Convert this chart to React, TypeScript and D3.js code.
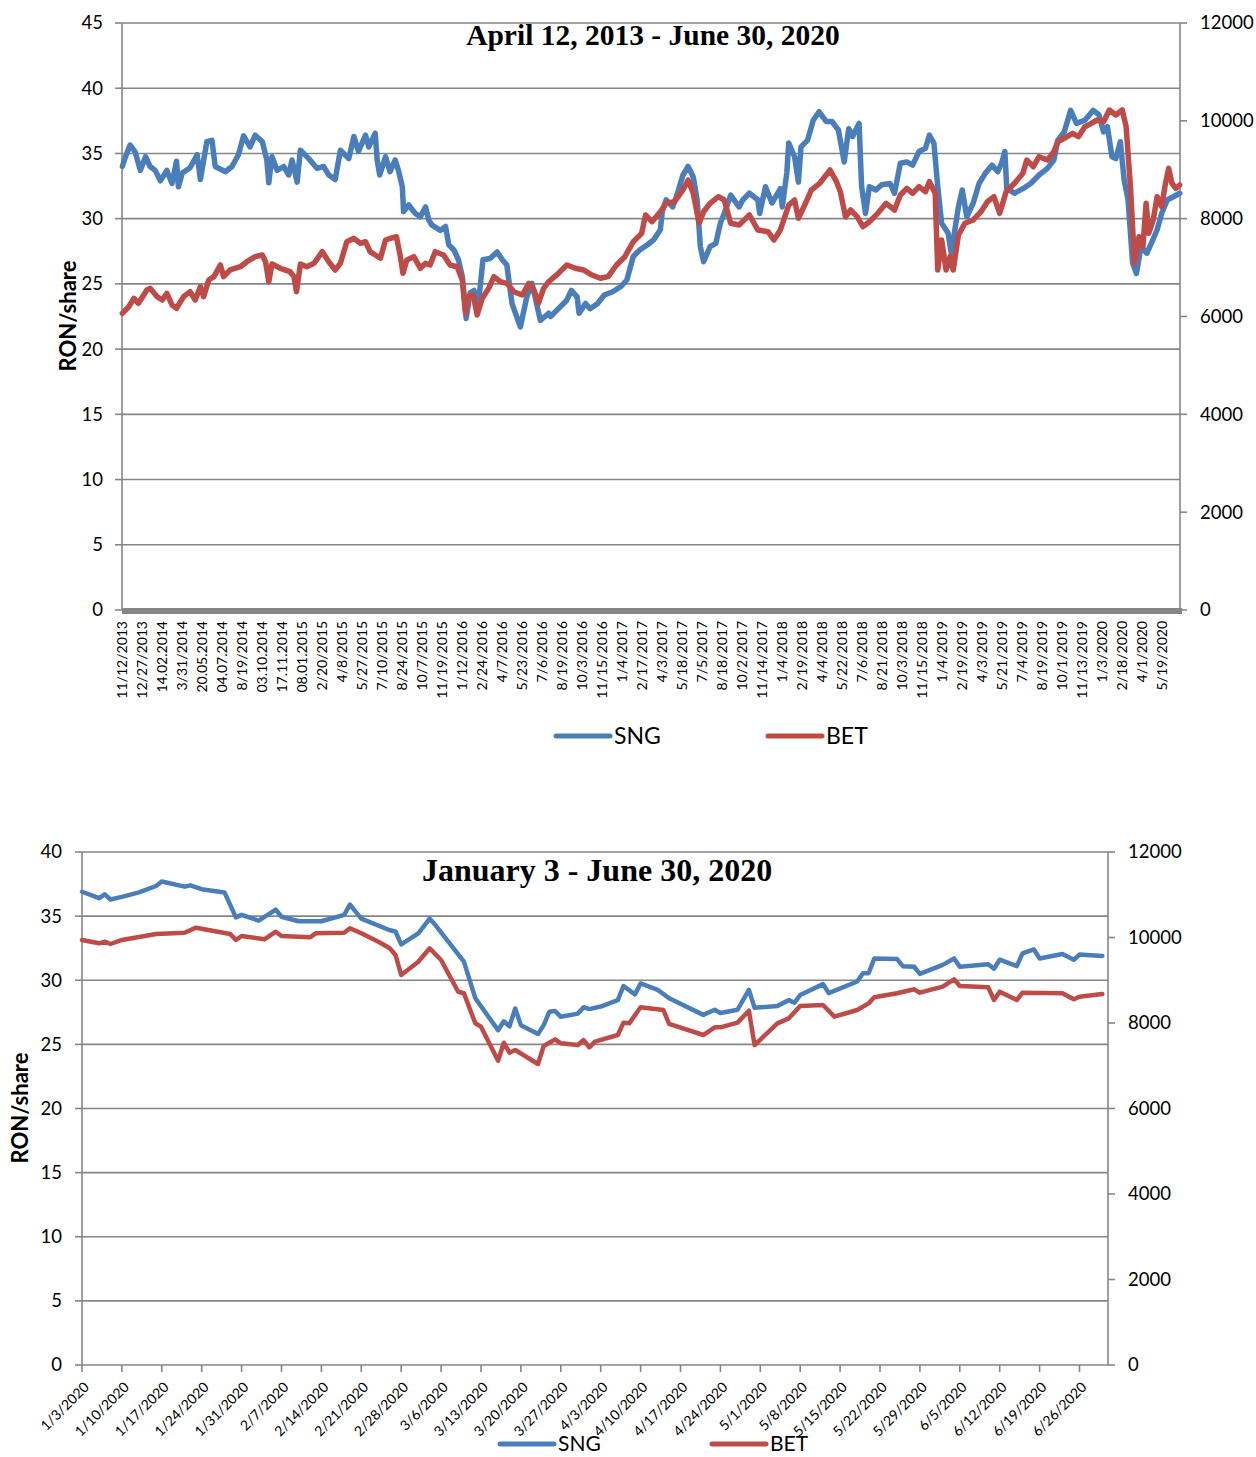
import React from 'react';
import * as d3 from 'd3';

// ---- long period chart (category axis, trading-day index) ----
const LONG_N = 1640;
const LONG_STEP = 31;
const longLabels = [
  '11/12/2013', '12/27/2013', '14.02.2014', '3/31/2014', '20.05.2014', '04.07.2014', '8/19/2014',
  '03.10.2014', '17.11.2014', '08.01.2015', '2/20/2015', '4/8/2015', '5/27/2015', '7/10/2015',
  '8/24/2015', '10/7/2015', '11/19/2015', '1/12/2016', '2/24/2016', '4/7/2016', '5/23/2016',
  '7/6/2016', '8/19/2016', '10/3/2016', '11/15/2016', '1/4/2017', '2/17/2017', '4/3/2017',
  '5/18/2017', '7/5/2017', '8/18/2017', '10/2/2017', '11/14/2017', '1/4/2018', '2/19/2018',
  '4/4/2018', '5/22/2018', '7/6/2018', '8/21/2018', '10/3/2018', '11/15/2018', '1/4/2019',
  '2/19/2019', '4/3/2019', '5/21/2019', '7/4/2019', '8/19/2019', '10/1/2019', '11/13/2019',
  '1/3/2020', '2/18/2020', '4/1/2020', '5/19/2020'
];

// [index, RON/share]
const longSNG: [number, number][] = [
  [0,34.0],[5,34.75],[12,35.65],[20,35.1],[28,33.7],[36,34.75],[43,34.0],[51,33.7],[59,32.9],[69,33.7],
  [77,32.7],[84,34.4],[87,32.45],[93,33.5],[105,33.9],[116,34.9],[121,33.0],[131,35.9],[139,36.0],[144,34.0],
  [160,33.6],[170,34.0],[180,34.9],[188,36.35],[198,35.5],[206,36.4],[217,35.9],[224,34.5],[227,32.75],[232,34.75],
  [240,33.7],[250,34.0],[258,33.35],[263,34.5],[271,32.8],[276,35.25],[289,34.6],[302,33.85],[312,34.0],[320,33.35],
  [330,33.0],[338,35.25],[351,34.6],[359,36.3],[366,35.15],[377,36.4],[382,35.5],[392,36.55],[395,34.5],[399,33.35],
  [408,34.75],[415,33.6],[423,34.5],[428,33.7],[434,32.45],[436,30.55],[444,31.05],[454,30.4],[462,30.15],[470,30.9],
  [475,29.9],[480,29.5],[493,29.1],[501,29.4],[506,28.0],[514,27.6],[521,26.85],[527,25.55],[533,22.35],[539,24.3],
  [545,24.5],[552,23.5],[559,26.85],[570,26.95],[581,27.45],[589,26.85],[596,26.45],[604,23.5],[617,21.7],[627,24.0],
  [635,25.05],[648,22.2],[661,22.75],[664,22.5],[676,23.1],[689,23.75],[696,24.5],[705,24.0],[708,22.75],[718,23.5],
  [725,23.1],[737,23.5],[747,24.15],[760,24.4],[773,24.8],[782,25.3],[792,27.1],[802,27.6],[814,28.0],[824,28.4],
  [834,29.15],[837,30.55],[843,31.45],[853,30.9],[859,31.7],[869,33.35],[877,34.0],[885,33.2],[891,31.45],[896,27.85],
  [901,26.7],[911,27.85],[920,28.1],[927,29.65],[933,30.4],[943,31.8],[956,30.9],[962,31.45],[972,31.95],[985,31.45],
  [988,30.4],[997,32.45],[1007,31.2],[1020,32.3],[1023,30.9],[1030,33.5],[1033,35.8],[1042,34.75],[1048,32.8],[1052,35.5],
  [1062,36.0],[1071,37.55],[1080,38.2],[1091,37.45],[1100,37.45],[1110,36.8],[1119,34.35],[1126,36.9],[1132,36.3],[1142,37.3],
  [1146,32.45],[1152,30.4],[1158,32.45],[1168,32.2],[1177,32.6],[1190,32.7],[1197,31.95],[1206,34.25],[1216,34.35],[1225,34.1],
  [1235,35.15],[1245,35.4],[1251,36.4],[1258,35.8],[1264,32.45],[1270,29.65],[1280,28.9],[1285,27.35],[1296,30.9],[1302,32.2],
  [1309,30.15],[1319,31.2],[1328,32.7],[1338,33.5],[1348,34.1],[1357,33.6],[1363,34.25],[1368,35.15],[1371,32.3],[1383,31.95],
  [1396,32.3],[1408,32.7],[1421,33.35],[1434,33.85],[1444,34.5],[1450,36.0],[1460,36.65],[1470,38.3],[1479,37.3],[1492,37.55],
  [1505,38.3],[1514,37.95],[1521,36.65],[1527,37.05],[1534,34.75],[1540,34.6],[1547,35.9],[1553,32.95],[1559,31.45],[1566,26.6],
  [1572,25.8],[1579,27.85],[1588,27.35],[1595,28.1],[1604,29.15],[1611,30.4],[1620,31.45],[1630,31.7],[1639,31.95]
];

// [index, BET points]
const longBET: [number, number][] = [
  [0,6065],[10,6200],[18,6372],[25,6270],[38,6542],[43,6576],[54,6405],[62,6337],[69,6474],[77,6235],
  [84,6168],[95,6405],[105,6507],[113,6337],[121,6610],[126,6405],[134,6746],[142,6814],[152,7053],[157,6814],
  [167,6951],[183,7018],[193,7120],[206,7223],[217,7257],[222,7120],[227,6712],[232,7073],[245,6985],[260,6916],
  [266,6814],[270,6507],[276,7073],[286,7018],[297,7087],[310,7325],[320,7120],[330,6951],[338,7087],[348,7529],
  [359,7598],[369,7496],[377,7529],[384,7325],[392,7257],[400,7190],[408,7564],[415,7598],[425,7631],[431,7223],
  [435,6883],[441,7155],[452,7223],[462,6985],[470,7087],[477,7053],[485,7325],[498,7257],[508,7053],[519,7018],
  [527,6746],[532,6065],[537,6405],[544,6439],[550,6031],[558,6372],[568,6576],[576,6814],[586,6712],[596,6678],
  [607,6507],[620,6439],[630,6678],[638,6542],[645,6270],[653,6576],[661,6712],[676,6883],[689,7053],[702,6985],
  [715,6951],[728,6848],[741,6781],[753,6814],[766,7053],[779,7223],[792,7529],[805,7700],[811,8075],[821,7938],
  [834,8142],[843,8314],[856,8347],[869,8586],[877,8790],[885,8518],[894,7905],[901,8142],[911,8314],[924,8449],
  [933,8382],[943,7905],[956,7871],[972,8075],[985,7769],[1001,7734],[1010,7564],[1020,7769],[1033,8279],[1042,8382],
  [1048,8008],[1059,8314],[1068,8586],[1081,8723],[1091,8893],[1097,8995],[1107,8756],[1113,8551],[1121,8040],[1129,8177],
  [1139,8040],[1148,7836],[1158,7938],[1171,8109],[1184,8314],[1197,8177],[1206,8484],[1216,8620],[1225,8518],[1235,8654],
  [1245,8551],[1251,8756],[1260,8518],[1264,6951],[1270,7564],[1277,6951],[1283,7223],[1288,6951],[1296,7666],[1306,7905],
  [1319,7973],[1331,8142],[1341,8347],[1351,8449],[1360,8109],[1370,8551],[1383,8723],[1396,8927],[1402,9199],[1412,9062],
  [1421,9267],[1434,9199],[1444,9369],[1450,9573],[1460,9643],[1473,9745],[1482,9676],[1492,9880],[1502,9949],[1511,10017],
  [1521,9983],[1530,10221],[1540,10119],[1550,10221],[1556,9880],[1563,8586],[1569,7087],[1576,7632],[1582,7427],[1587,8314],
  [1591,7700],[1598,7973],[1604,8449],[1611,8245],[1617,8723],[1622,9029],[1627,8723],[1633,8620],[1639,8688]
];

// ---- 2020 chart (date axis) ----
const shortTicks = [
  '1/3/2020', '1/10/2020', '1/17/2020', '1/24/2020', '1/31/2020', '2/7/2020', '2/14/2020', '2/21/2020',
  '2/28/2020', '3/6/2020', '3/13/2020', '3/20/2020', '3/27/2020', '4/3/2020', '4/10/2020', '4/17/2020',
  '4/24/2020', '5/1/2020', '5/8/2020', '5/15/2020', '5/22/2020', '5/29/2020', '6/5/2020', '6/12/2020',
  '6/19/2020', '6/26/2020'
];

const shortSNG: [string, number][] = [
  ['1/3',36.9],['1/6',36.4],['1/7',36.7],['1/8',36.3],['1/10',36.5],['1/13',36.85],['1/16',37.35],['1/17',37.7],
  ['1/21',37.3],['1/22',37.4],['1/24',37.1],['1/28',36.85],['1/30',34.9],['1/31',35.1],['2/3',34.65],['2/6',35.5],
  ['2/7',34.95],['2/10',34.6],['2/14',34.6],['2/18',35.1],['2/19',35.9],['2/21',34.8],['2/26',33.9],['2/27',33.8],
  ['2/28',32.8],['3/2',33.65],['3/4',34.8],['3/5',34.3],['3/10',31.45],['3/12',28.6],['3/16',26.1],['3/17',26.8],
  ['3/18',26.4],['3/19',27.8],['3/20',26.5],['3/23',25.8],['3/24',26.5],['3/25',27.55],['3/26',27.6],['3/27',27.15],
  ['3/30',27.4],['3/31',27.9],['4/1',27.75],['4/3',27.95],['4/6',28.45],['4/7',29.55],['4/9',28.9],['4/10',29.75],
  ['4/13',29.25],['4/15',28.6],['4/21',27.3],['4/23',27.7],['4/24',27.45],['4/27',27.7],['4/29',29.25],['4/30',27.85],
  ['5/4',28.0],['5/6',28.45],['5/7',28.25],['5/8',28.85],['5/12',29.7],['5/13',29.0],['5/18',29.9],['5/19',30.55],
  ['5/20',30.55],['5/21',31.7],['5/25',31.65],['5/26',31.1],['5/28',31.05],['5/29',30.5],['6/2',31.2],['6/4',31.7],
  ['6/5',31.05],['6/10',31.25],['6/11',30.9],['6/12',31.6],['6/15',31.1],['6/16',32.1],['6/18',32.4],['6/19',31.7],
  ['6/23',32.05],['6/25',31.6],['6/26',32.0],['6/30',31.9]
];

const shortBET: [string, number][] = [
  ['1/3',9942],['1/6',9864],['1/7',9902],['1/8',9848],['1/10',9942],['1/16',10082],['1/21',10112],['1/23',10230],
  ['1/29',10082],['1/30',9942],['1/31',10035],['2/4',9958],['2/6',10136],['2/7',10035],['2/12',10004],['2/13',10098],
  ['2/18',10113],['2/19',10215],['2/21',10098],['2/24',9902],['2/26',9747],['2/27',9591],['2/28',9123],['3/2',9434],
  ['3/4',9747],['3/6',9474],['3/9',8732],['3/10',8695],['3/12',7993],['3/13',7914],['3/16',7118],['3/17',7539],
  ['3/18',7305],['3/19',7368],['3/23',7041],['3/24',7462],['3/26',7618],['3/27',7525],['3/30',7485],['3/31',7602],
  ['4/1',7431],['4/2',7563],['4/6',7719],['4/7',8008],['4/8',7992],['4/10',8367],['4/14',8304],['4/15',7977],
  ['4/21',7719],['4/23',7899],['4/24',7899],['4/27',8008],['4/29',8288],['4/30',7485],['5/4',7992],['5/6',8109],
  ['5/8',8398],['5/12',8421],['5/14',8148],['5/18',8304],['5/20',8460],['5/21',8601],['5/25',8695],['5/28',8788],
  ['5/29',8709],['6/2',8850],['6/4',9022],['6/5',8866],['6/10',8835],['6/11',8538],['6/12',8733],['6/15',8538],
  ['6/16',8709],['6/23',8695],['6/25',8554],['6/26',8615],['6/30',8678]
];

const GRID = '#868686';
const BLUE = '#4A7EBB';
const RED = '#BE4B48';
const SANS = 'Lato, "Open Sans", sans-serif';
const SERIF = '"Liberation Serif", "Times New Roman", serif';

const parseMD = (s: string) => {
  const p = s.split('/').map(Number);
  return new Date(p[2] || 2020, p[0] - 1, p[1]);
};

const Legend = ({ y, x1, x2, size }: { y: number, x1: number, x2: number, size: number }) => (
  <g fontFamily={SANS} fontSize={size} fill="#000">
    <line x1={x1} x2={x1 + 54} y1={y} y2={y} stroke={BLUE} strokeWidth={5} strokeLinecap="round" />
    <text x={x1 + 58} y={y + size * 0.34}>SNG</text>
    <line x1={x2} x2={x2 + 54} y1={y} y2={y} stroke={RED} strokeWidth={5} strokeLinecap="round" />
    <text x={x2 + 58} y={y + size * 0.34}>BET</text>
  </g>
);

const LongChart = () => {
  const left = 122, right = 1180, top = 23, bottom = 610;
  const x = d3.scaleLinear().domain([-0.5, LONG_N - 0.5]).range([left, right]);
  const yL = d3.scaleLinear().domain([0, 45]).range([bottom, top]);
  const yR = d3.scaleLinear().domain([0, 12000]).range([bottom, top]);
  const sngLine = d3.line<[number, number]>().x(d => x(d[0])).y(d => yL(d[1]));
  const betLine = d3.line<[number, number]>().x(d => x(d[0])).y(d => yR(d[1]));
  const leftTicks = d3.range(0, 46, 5);
  const rightTicks = d3.range(0, 12001, 2000);

  return (
    <g>
      {leftTicks.map(t => (
        <g key={'l' + t}>
          {t > 0 && <line x1={left} x2={right} y1={yL(t)} y2={yL(t)} stroke={GRID} strokeWidth={1.6} />}
          <line x1={left - 7} x2={left} y1={yL(t)} y2={yL(t)} stroke={GRID} strokeWidth={1.6} />
          <text x={left - 19} y={yL(t)} dy="0.35em" textAnchor="end" fontFamily={SANS} fontSize={18.5}>{t}</text>
        </g>
      ))}
      {rightTicks.map(t => (
        <g key={'r' + t}>
          <line x1={right} x2={right + 7} y1={yR(t)} y2={yR(t)} stroke={GRID} strokeWidth={1.6} />
          <text x={right + 20} y={yR(t)} dy="0.35em" fontFamily={SANS} fontSize={18.5}>{t}</text>
        </g>
      ))}
      <line x1={left} x2={left} y1={top} y2={bottom} stroke={GRID} strokeWidth={1.6} />
      <line x1={right} x2={right} y1={top} y2={bottom} stroke={GRID} strokeWidth={1.6} />
      <rect x={left} y={bottom - 2} width={right - left + 2} height={6} fill={GRID} />
      {longLabels.map((lab, i) => (
        <text key={lab} transform={`translate(${x(i * LONG_STEP) + 5},${bottom + 11}) rotate(-90)`}
          textAnchor="end" fontFamily={SANS} fontSize={14}>{lab}</text>
      ))}
      <path d={sngLine(longSNG) || ''} fill="none" stroke={BLUE} strokeWidth={5.5} strokeLinejoin="round" strokeLinecap="round" />
      <path d={betLine(longBET) || ''} fill="none" stroke={RED} strokeWidth={5.5} strokeLinejoin="round" strokeLinecap="round" />
      <text x={653} y={45} textAnchor="middle" fontFamily={SERIF} fontWeight="bold" fontSize={29.5}>April 12, 2013 - June 30, 2020</text>
      <text transform="translate(76,316) rotate(-90)" textAnchor="middle" fontFamily={SANS} fontWeight="bold" fontSize={22}>RON/share</text>
      <Legend y={736} x1={556} x2={768} size={23} />
    </g>
  );
};

const ShortChart = () => {
  const left = 82, right = 1108, top = 852, bottom = 1365;
  const x = d3.scaleTime().domain([new Date(2020, 0, 3), new Date(2020, 6, 1)]).range([left, right]);
  const yL = d3.scaleLinear().domain([0, 40]).range([bottom, top]);
  const yR = d3.scaleLinear().domain([0, 12000]).range([bottom, top]);
  const sngLine = d3.line<[string, number]>().x(d => x(parseMD(d[0]))).y(d => yL(d[1]));
  const betLine = d3.line<[string, number]>().x(d => x(parseMD(d[0]))).y(d => yR(d[1]));
  const leftTicks = d3.range(0, 41, 5);
  const rightTicks = d3.range(0, 12001, 2000);

  return (
    <g>
      {leftTicks.map(t => (
        <g key={'l' + t}>
          {t > 0 && <line x1={left} x2={right} y1={yL(t)} y2={yL(t)} stroke={GRID} strokeWidth={1.6} />}
          <line x1={left - 7} x2={left} y1={yL(t)} y2={yL(t)} stroke={GRID} strokeWidth={1.6} />
          <text x={left - 20} y={yL(t)} dy="0.35em" textAnchor="end" fontFamily={SANS} fontSize={18.5}>{t}</text>
        </g>
      ))}
      {rightTicks.map(t => (
        <g key={'r' + t}>
          <line x1={right} x2={right + 7} y1={yR(t)} y2={yR(t)} stroke={GRID} strokeWidth={1.6} />
          <text x={right + 20} y={yR(t)} dy="0.35em" fontFamily={SANS} fontSize={18.5}>{t}</text>
        </g>
      ))}
      <line x1={left} x2={left} y1={top} y2={bottom} stroke={GRID} strokeWidth={1.6} />
      <line x1={right} x2={right} y1={top} y2={bottom} stroke={GRID} strokeWidth={1.6} />
      <line x1={left} x2={right} y1={bottom} y2={bottom} stroke={GRID} strokeWidth={1.6} />
      {shortTicks.map(lab => {
        const xx = x(parseMD(lab));
        return (
          <g key={lab}>
            <line x1={xx} x2={xx} y1={bottom} y2={bottom + 7} stroke={GRID} strokeWidth={1.6} />
            <text transform={`translate(${xx + 8},${bottom + 23}) rotate(-45)`} textAnchor="end"
              fontFamily={SANS} fontSize={14}>{lab}</text>
          </g>
        );
      })}
      <path d={sngLine(shortSNG) || ''} fill="none" stroke={BLUE} strokeWidth={4.5} strokeLinejoin="round" strokeLinecap="round" />
      <path d={betLine(shortBET) || ''} fill="none" stroke={RED} strokeWidth={4.5} strokeLinejoin="round" strokeLinecap="round" />
      <text x={597} y={881} textAnchor="middle" fontFamily={SERIF} fontWeight="bold" fontSize={32}>January 3 - June 30, 2020</text>
      <text transform="translate(28,1108) rotate(-90)" textAnchor="middle" fontFamily={SANS} fontWeight="bold" fontSize={22}>RON/share</text>
      <Legend y={1444} x1={500} x2={712} size={21} />
    </g>
  );
};

export default function App() {
  return (
    <svg width={1256} height={1457} style={{ position: 'absolute', left: 0, top: 0, background: '#fff' }}>
      <rect width={1256} height={1457} fill="#fff" />
      <LongChart />
      <ShortChart />
    </svg>
  );
}
